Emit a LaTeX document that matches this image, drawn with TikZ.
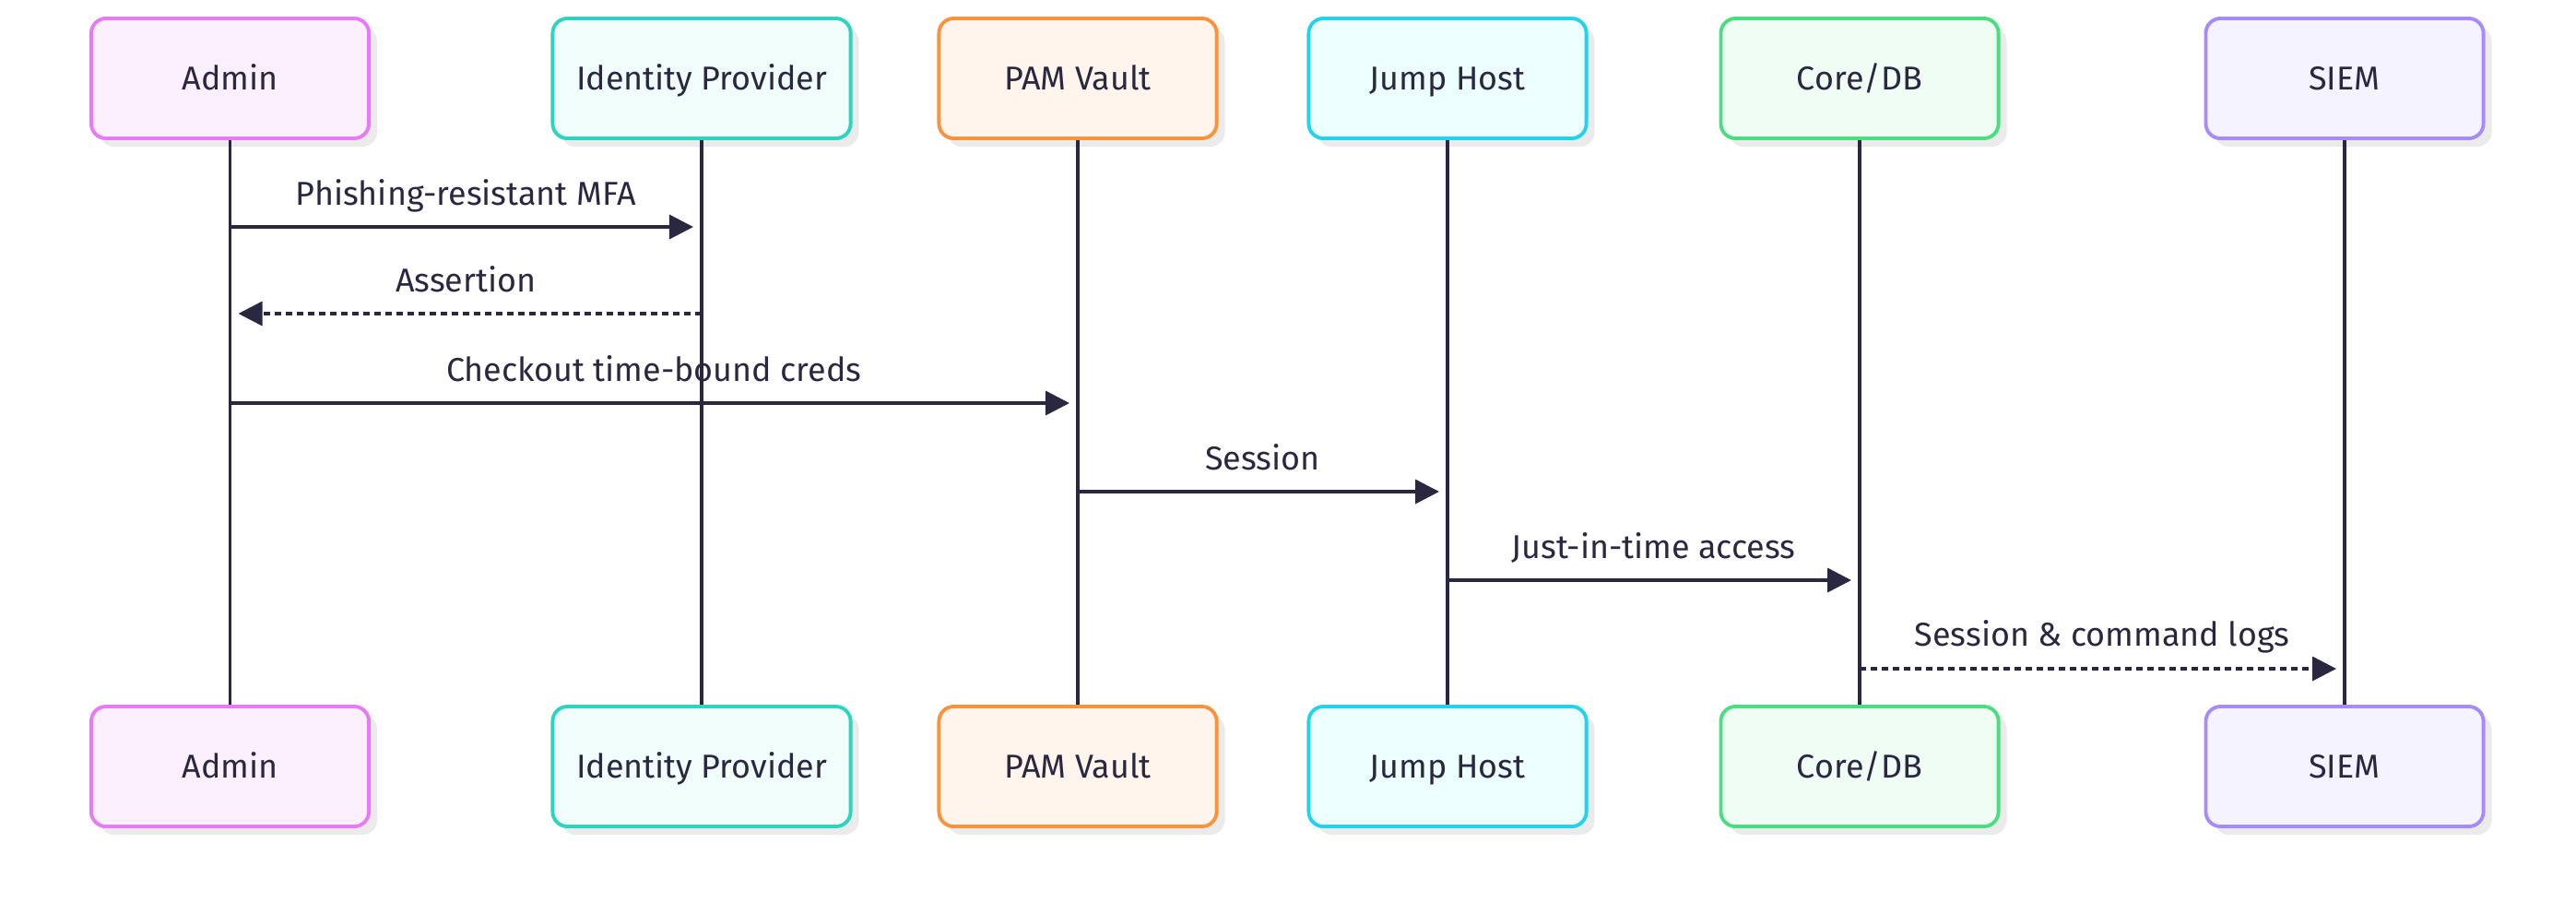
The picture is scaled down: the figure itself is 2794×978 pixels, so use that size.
\documentclass[tikz,border=0pt]{standalone}
\usepackage{fontspec}
\setmainfont{Fira Sans}
\usetikzlibrary{arrows.meta,calc}
\definecolor{ink}{HTML}{2A2840}
\definecolor{shadowc}{HTML}{EBEBEB}
\definecolor{adminB}{HTML}{E879F9}\definecolor{adminF}{HTML}{FDF0FE}
\definecolor{idpB}{HTML}{2DD4BF}\definecolor{idpF}{HTML}{F0FDFA}
\definecolor{pamB}{HTML}{FB923C}\definecolor{pamF}{HTML}{FFF5EC}
\definecolor{jumpB}{HTML}{22D3EE}\definecolor{jumpF}{HTML}{ECFEFF}
\definecolor{coreB}{HTML}{4ADE80}\definecolor{coreF}{HTML}{F0FDF4}
\definecolor{siemB}{HTML}{A78BFA}\definecolor{siemF}{HTML}{F5F3FF}
\tikzset{
  actor/.style={draw=#1B, fill=#1F, line width=1.1pt, rounded corners=0.16cm,
    minimum width=3.01cm, minimum height=1.30cm, inner sep=0pt,
    text=ink, font=\fontsize{10.2}{12}\selectfont, text height=0.84em, text depth=0.12em,
    preaction={fill=shadowc, transform canvas={xshift=0.09cm, yshift=-0.09cm}}},
  life/.style={draw=ink, line width=1pt},
  msg/.style={draw=ink, line width=1pt, -{Triangle[length=0.26cm,width=0.26cm]}, shorten >=0.09cm},
  reply/.style={msg, dash pattern=on 0.07cm off 0.05cm},
  lbl/.style={text=ink, font=\fontsize{10.2}{12}\selectfont, inner sep=0pt, anchor=center,
    text height=0.84em, text depth=0.12em}
}
\begin{document}
\begin{tikzpicture}[x=0.01cm, y=-0.01cm]
\useasboundingbox (0,0) rectangle (2794,978);
% top actors
\node[actor=admin] (a1) at (249.5,85) {Admin};
\node[actor=idp, minimum width=3.23cm] (i1) at (761,85) {Identity Provider};
\node[actor=pam] (p1) at (1169,85) {PAM Vault};
\node[actor=jump] (j1) at (1570,85) {Jump Host};
\node[actor=core] (c1) at (2017,85) {Core/DB};
\node[actor=siem] (s1) at (2543,85) {SIEM};
% bottom actors
\node[actor=admin] (a2) at (249.5,831) {Admin};
\node[actor=idp, minimum width=3.23cm] (i2) at (761,831) {Identity Provider};
\node[actor=pam] (p2) at (1169,831) {PAM Vault};
\node[actor=jump] (j2) at (1570,831) {Jump Host};
\node[actor=core] (c2) at (2017,831) {Core/DB};
\node[actor=siem] (s2) at (2543,831) {SIEM};
% lifelines
\foreach \t/\b in {a1/a2,i1/i2,p1/p2,j1/j2,c1/c2,s1/s2}
  \draw[life] (\t.south) -- (\b.north);
% message anchor coordinates
\coordinate (m1a) at (a1.south |- 0,246); \coordinate (m1b) at (i1.south |- 0,246);
\coordinate (m2a) at (i1.south |- 0,340); \coordinate (m2b) at (a1.south |- 0,340);
\coordinate (m3a) at (a1.south |- 0,437); \coordinate (m3b) at (p1.south |- 0,437);
\coordinate (m4a) at (p1.south |- 0,533); \coordinate (m4b) at (j1.south |- 0,533);
\coordinate (m5a) at (j1.south |- 0,629); \coordinate (m5b) at (c1.south |- 0,629);
\coordinate (m6a) at (c1.south |- 0,725); \coordinate (m6b) at (s1.south |- 0,725);
% messages
\draw[msg] (m1a) -- (m1b);
\draw[reply] (m2a) -- (m2b);
\draw[msg] (m3a) -- (m3b);
\draw[msg] (m4a) -- (m4b);
\draw[msg] (m5a) -- (m5b);
\draw[reply] (m6a) -- (m6b);
% labels
\node[lbl] (l1) at ($(m1a)!0.5!(m1b)+(0,-36)$) {Phishing-resistant MFA};
\node[lbl] (l2) at ($(m2a)!0.5!(m2b)+(0,-36)$) {Assertion};
\node[lbl] (l3) at ($(m3a)!0.5!(m3b)+(0,-36)$) {Checkout time-bound creds};
\node[lbl] (l4) at ($(m4a)!0.5!(m4b)+(0,-36)$) {Session};
\node[lbl] (l5) at ($(m5a)!0.5!(m5b)+(0,-36)$) {Just-in-time access};
\node[lbl] (l6) at ($(m6a)!0.5!(m6b)+(0,-37)$) {Session \& command logs};
\end{tikzpicture}
\end{document}
